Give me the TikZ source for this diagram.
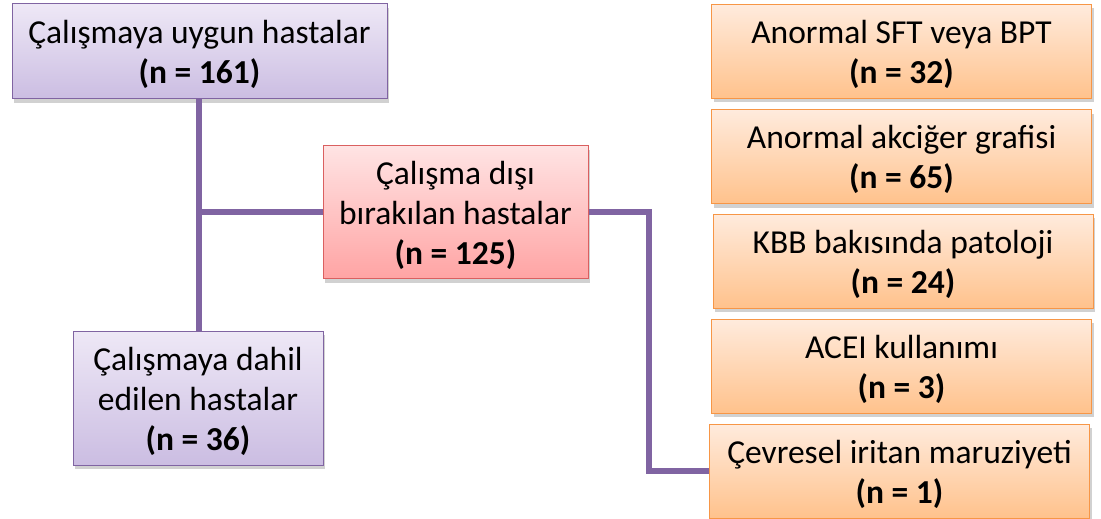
\documentclass[tikz,border=0pt]{standalone}
\usepackage{fontspec}
\setmainfont{Carlito}
\usetikzlibrary{shadows,calc}
\definecolor{pline}{HTML}{8064A2}
\definecolor{ptop}{HTML}{EEE8F6}
\definecolor{pbot}{HTML}{CBBDE2}
\definecolor{rtop}{HTML}{FFE4E4}
\definecolor{rbot}{HTML}{FFA4A4}
\definecolor{rline}{HTML}{DA6060}
\definecolor{otop}{HTML}{FFEBDD}
\definecolor{obot}{HTML}{FFC28C}
\definecolor{oline}{HTML}{F79646}
\tikzset{
  box/.style={rectangle, draw, line width=1pt, inner sep=0pt,
    drop shadow={shadow xshift=2pt, shadow yshift=-4pt, opacity=0.3, fill=black!60}},
  txt/.style={label={[align=center, font=\fontsize{33.5}{40}\selectfont, yshift=-3pt]center:{#1}}},
  pbox/.style={box, draw=pline, top color=ptop, bottom color=pbot},
  rbox/.style={box, draw=rline, top color=rtop, bottom color=rbot},
  obox/.style={box, draw=oline, top color=otop, bottom color=obot,
    minimum width=380pt, minimum height=94pt},
  conn/.style={draw=pline, line width=5.5pt}
}
\begin{document}
\begin{tikzpicture}[x=1pt,y=-1pt]
\useasboundingbox (0,0) rectangle (1101,519);
\node[pbox, minimum width=375pt, minimum height=95pt,
  txt={Çalışmaya uygun hastalar\\\textbf{(n = 161)}}] (top) at (199.5,51.5) {};
\node[pbox, minimum width=250pt, minimum height=134pt,
  txt={Çalışmaya dahil\\edilen hastalar\\\textbf{(n = 36)}}] (bot) at (198,398) {};
\node[rbox, minimum width=265pt, minimum height=133pt,
  txt={Çalışma dışı\\bırakılan hastalar\\\textbf{(n = 125)}}] (red) at (455.5,212) {};
\node[obox, txt={Anormal SFT veya BPT\\\textbf{(n = 32)}}] (o1) at (901.5,51.5) {};
\node[obox, txt={Anormal akciğer grafisi\\\textbf{(n = 65)}}] (o2) at (901.5,156.5) {};
\node[obox, txt={KBB bakısında patoloji\\\textbf{(n = 24)}}] (o3) at (903,261) {};
\node[obox, txt={ACEI kullanımı\\\textbf{(n = 3)}}] (o4) at (901.5,366) {};
\node[obox, txt={Çevresel iritan maruziyeti\\\textbf{(n = 1)}}] (o5) at (899.5,471) {};
\coordinate (vt) at (199,99);
\coordinate (vb) at (199,331);
\coordinate (j) at (vt |- red.west);
\coordinate (k) at (649,0);
\draw[conn] (vt) -- (vb);
\draw[conn] (j) -- (red.west);
\draw[conn, line join=miter] (red.east) -- (red.east -| k) -- (k |- o5.west) -- (o5.west);
\end{tikzpicture}
\end{document}
